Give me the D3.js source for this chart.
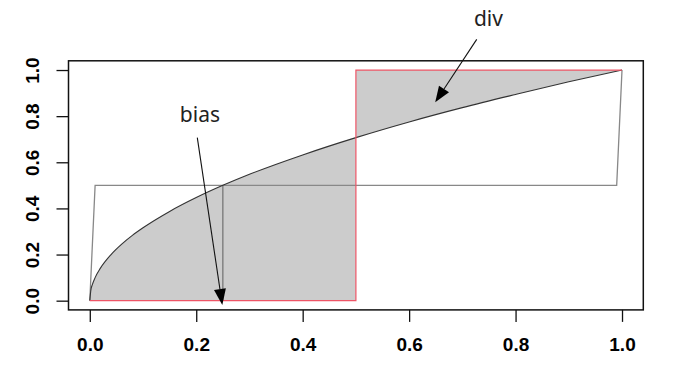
<!DOCTYPE html>
<html>
<head>
<meta charset="utf-8">
<script src="https://cdn.jsdelivr.net/npm/d3@7"></script>
<style>
  body { margin: 0; background: #fff; }
  svg { display: block; }
  .tick text { font-family: "Liberation Sans", Arial, sans-serif; font-weight: bold; font-size: 19px; fill: #000; }
  .note { font-family: "Noto Sans", sans-serif; font-size: 21px; fill: #222; }
</style>
</head>
<body>
<svg id="chart" width="676" height="376"></svg>
<script>
// curve
const curveX = [0, 0.002, 0.005, 0.01, 0.02, 0.04, 0.06, 0.08, 0.1, 0.15, 0.2, 0.25, 0.3, 0.4, 0.5,
                0.6, 0.7, 0.8, 0.9, 1.0];
const curveY = [0, 0.045, 0.071, 0.1, 0.141, 0.2, 0.245, 0.283, 0.316, 0.387, 0.447, 0.5, 0.548, 0.632, 0.707,
                0.775, 0.837, 0.894, 0.949, 1.0];

// red step line
const stepX = [0, 0.5, 0.5, 1];
const stepY = [0, 0, 1, 1];

// gray line
const grayX = [0, 0.01, 0.99, 1];
const grayY = [0, 0.5, 0.5, 1];

// vertical gray segment at the bias point
const biasX = [0.25, 0.25];
const biasY = [0, 0.5];

// annotations
const noteText = ["bias", "div"];
const noteX = [0.207, 0.749];
const noteY = [0.776, 1.191];
const arrowFromX = [0.202, 0.727];
const arrowFromY = [0.707, 1.133];
const arrowToX = [0.249, 0.649];
const arrowToY = [-0.019, 0.860];

const xTicks = [0, 0.2, 0.4, 0.6, 0.8, 1.0];
const yTicks = [0, 0.2, 0.4, 0.6, 0.8, 1.0];

const svg = d3.select("#chart");
const box = {left: 68.5, right: 643.3, top: 60.8, bottom: 309.9};

const x = d3.scaleLinear().domain([-0.04, 1.04]).range([box.left, box.right]);
const y = d3.scaleLinear().domain([-0.04, 1.04]).range([box.bottom, box.top]);

const curvePts = curveX.map((v, i) => [v, curveY[i]]);

// shaded area between curve and step
const area = d3.area()
    .x(d => x(d[0]))
    .y1(d => y(d[1]))
    .curve(d3.curveMonotoneX);

svg.append("path")
    .datum(curvePts.filter(d => d[0] <= 0.5))
    .attr("d", area.y0(y(0)))
    .attr("fill", "#cccccc");
svg.append("path")
    .datum(curvePts.filter(d => d[0] >= 0.5))
    .attr("d", area.y0(y(1)))
    .attr("fill", "#cccccc");

const line = d3.line().x(d => x(d[0])).y(d => y(d[1]));

// gray line
svg.append("path")
    .datum(grayX.map((v, i) => [v, grayY[i]]))
    .attr("d", line)
    .attr("fill", "none")
    .attr("stroke", "#888")
    .attr("stroke-width", 1.3);

svg.append("path")
    .datum(biasX.map((v, i) => [v, biasY[i]]))
    .attr("d", line)
    .attr("fill", "none")
    .attr("stroke", "#777")
    .attr("stroke-width", 1.3);

// the curve
svg.append("path")
    .datum(curvePts)
    .attr("d", d3.line().x(d => x(d[0])).y(d => y(d[1])).curve(d3.curveMonotoneX))
    .attr("fill", "none")
    .attr("stroke", "#333")
    .attr("stroke-width", 1.1);

// red step
svg.append("path")
    .datum(stepX.map((v, i) => [v, stepY[i]]))
    .attr("d", line)
    .attr("fill", "none")
    .attr("stroke", "#ee5566")
    .attr("stroke-width", 1.2);

// plot box
svg.append("rect")
    .attr("x", box.left)
    .attr("y", box.top)
    .attr("width", box.right - box.left)
    .attr("height", box.bottom - box.top)
    .attr("fill", "none")
    .attr("stroke", "#111")
    .attr("stroke-width", 1.5);

// x axis
const gx = svg.append("g")
    .attr("transform", "translate(0," + box.bottom + ")")
    .call(d3.axisBottom(x).tickValues(xTicks).tickFormat(d3.format(".1f"))
        .tickSize(12).tickPadding(16).tickSizeOuter(0));
gx.select(".domain").remove();
gx.selectAll(".tick line").attr("stroke", "#111").attr("stroke-width", 1.3);

// y axis
const gy = svg.append("g")
    .attr("transform", "translate(" + box.left + ",0)")
    .call(d3.axisLeft(y).tickValues(yTicks).tickFormat(d3.format(".1f"))
        .tickSize(12).tickSizeOuter(0));
gy.select(".domain").remove();
gy.selectAll(".tick line").attr("stroke", "#111").attr("stroke-width", 1.3);
gy.selectAll(".tick text")
    .attr("transform", "rotate(-90)")
    .attr("x", 0)
    .attr("y", -29.5)
    .attr("dy", 0)
    .attr("text-anchor", "middle");

// annotations
svg.selectAll(".note")
    .data(noteText)
    .enter().append("text")
    .attr("class", "note")
    .attr("x", (d, i) => x(noteX[i]))
    .attr("y", (d, i) => y(noteY[i]))
    .attr("text-anchor", "middle")
    .text(d => d);

const headLen = 16, headHalf = 6;
noteText.forEach((d, i) => {
    const x0 = x(arrowFromX[i]), y0 = y(arrowFromY[i]);
    const x1 = x(arrowToX[i]), y1 = y(arrowToY[i]);
    const len = Math.hypot(x1 - x0, y1 - y0);
    const ux = (x1 - x0) / len, uy = (y1 - y0) / len;
    const bx = x1 - ux * headLen, by = y1 - uy * headLen;
    svg.append("line")
        .attr("x1", x0).attr("y1", y0)
        .attr("x2", bx).attr("y2", by)
        .attr("stroke", "#111")
        .attr("stroke-width", 1.1);
    svg.append("polygon")
        .attr("points", [
            [x1, y1],
            [bx - uy * headHalf, by + ux * headHalf],
            [bx + uy * headHalf, by - ux * headHalf]
        ].map(p => p.join(",")).join(" "))
        .attr("fill", "#000");
});
</script>
</body>
</html>
